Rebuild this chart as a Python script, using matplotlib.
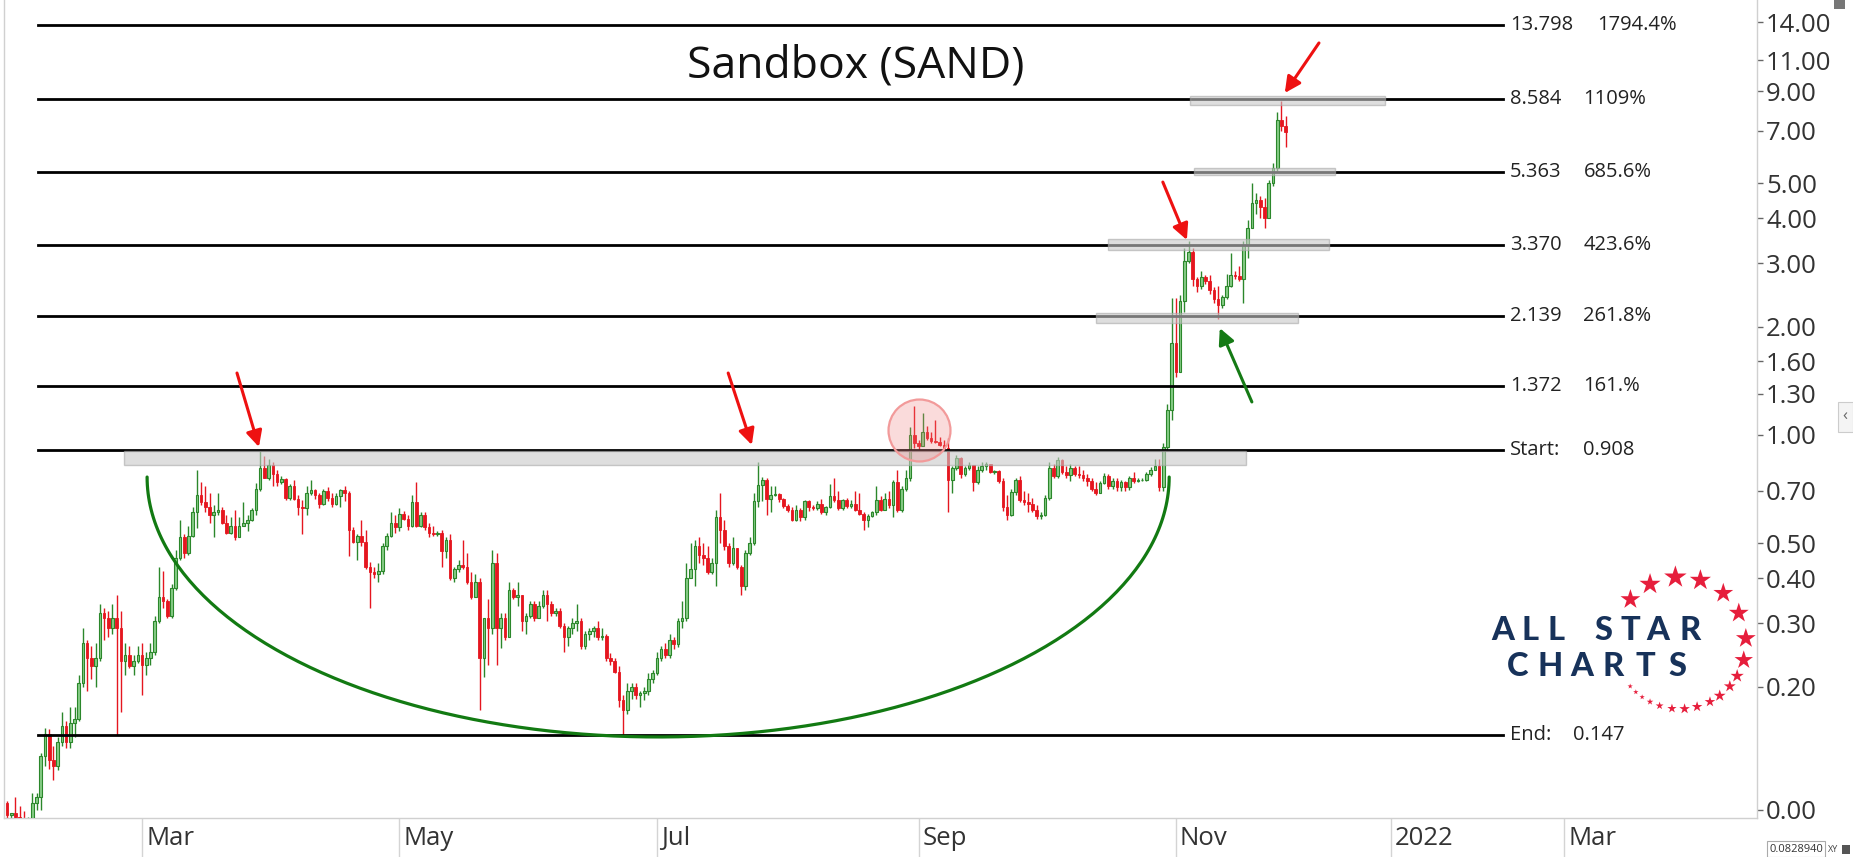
import numpy as np
import matplotlib.pyplot as plt
import matplotlib.transforms as mtransforms
from matplotlib.patches import Rectangle
from matplotlib.ticker import NullLocator

plt.rcParams['font.family'] = ['Open Sans', 'DejaVu Sans']

# SAND daily candles, 2021-01-28 .. 2021-11-27
# (crypto trades 24/7 so each open is the previous close)
start_date = np.datetime64('2021-01-28')
first_open = 0.095
closes = [
    0.088, 0.089, 0.087, 0.086, 0.085, 0.086, 0.095, 0.099, 0.128, 0.148,
    0.125, 0.12, 0.14, 0.155, 0.14, 0.158, 0.163, 0.205, 0.265, 0.24,
    0.228, 0.24, 0.32, 0.31, 0.29, 0.31, 0.29, 0.235, 0.245, 0.228,
    0.236, 0.245, 0.23, 0.24, 0.25, 0.305, 0.355, 0.345, 0.315, 0.375,
    0.455, 0.52, 0.47, 0.525, 0.61, 0.68, 0.65, 0.63, 0.6, 0.61,
    0.62, 0.57, 0.535, 0.56, 0.52, 0.56, 0.57, 0.58, 0.62, 0.71,
    0.81, 0.76, 0.825, 0.78, 0.74, 0.755, 0.67, 0.72, 0.665, 0.63,
    0.625, 0.69, 0.705, 0.68, 0.645, 0.7, 0.67, 0.645, 0.675, 0.705,
    0.69, 0.545, 0.505, 0.525, 0.505, 0.43, 0.415, 0.41, 0.42, 0.49,
    0.525, 0.57, 0.555, 0.605, 0.585, 0.56, 0.65, 0.56, 0.6, 0.555,
    0.535, 0.53, 0.535, 0.475, 0.51, 0.40, 0.425, 0.435, 0.43, 0.39,
    0.355, 0.39, 0.24, 0.31, 0.29, 0.44, 0.29, 0.31, 0.275, 0.37,
    0.355, 0.36, 0.305, 0.315, 0.34, 0.31, 0.335, 0.36, 0.34, 0.32,
    0.325, 0.295, 0.275, 0.29, 0.3, 0.305, 0.26, 0.28, 0.285, 0.29,
    0.275, 0.277, 0.24, 0.235, 0.22, 0.183, 0.172, 0.195, 0.2, 0.19,
    0.192, 0.195, 0.21, 0.218, 0.24, 0.255, 0.245, 0.27, 0.262, 0.305,
    0.31, 0.40, 0.425, 0.49, 0.465, 0.455, 0.415, 0.44, 0.59, 0.545,
    0.49, 0.44, 0.485, 0.43, 0.38, 0.47, 0.50, 0.655, 0.725, 0.75,
    0.665, 0.68, 0.685, 0.665, 0.635, 0.62, 0.58, 0.62, 0.59, 0.655,
    0.63, 0.625, 0.645, 0.61, 0.63, 0.675, 0.66, 0.625, 0.66, 0.635,
    0.645, 0.62, 0.605, 0.58, 0.595, 0.61, 0.66, 0.62, 0.665, 0.64,
    0.74, 0.62, 0.71, 0.76, 1.0, 0.95, 0.93, 1.02, 0.98, 0.96,
    0.955, 0.94, 0.92, 0.75, 0.81, 0.865, 0.78, 0.81, 0.825, 0.74,
    0.80, 0.82, 0.83, 0.79, 0.795, 0.745, 0.63, 0.60, 0.695, 0.75,
    0.66, 0.65, 0.645, 0.62, 0.595, 0.60, 0.67, 0.81, 0.77, 0.85,
    0.79, 0.775, 0.81, 0.78, 0.775, 0.76, 0.745, 0.71, 0.69, 0.735,
    0.77, 0.72, 0.745, 0.715, 0.74, 0.715, 0.76, 0.745, 0.75, 0.752,
    0.78, 0.80, 0.82, 0.715, 0.925, 1.17, 1.8, 1.5, 2.35, 3.05,
    3.22, 2.72, 2.6, 2.75, 2.67, 2.53, 2.38, 2.3, 2.42, 2.6,
    2.78, 2.76, 2.72, 3.37, 3.75, 4.4, 4.5, 4.3, 4.0, 5.0,
    5.5, 7.5, 7.2, 6.95,
]
highs = [
    0.096, 0.089, 0.099, 0.093, 0.090, 0.087, 0.101, 0.101, 0.131, 0.153,
    0.152, 0.137, 0.145, 0.17, 0.16, 0.175, 0.175, 0.215, 0.29, 0.27,
    0.26, 0.265, 0.34, 0.33, 0.325, 0.34, 0.36, 0.325, 0.265, 0.26,
    0.245, 0.26, 0.265, 0.25, 0.265, 0.315, 0.43, 0.42, 0.35, 0.385,
    0.48, 0.58, 0.53, 0.56, 0.63, 0.8, 0.74, 0.72, 0.69, 0.64,
    0.69, 0.63, 0.6, 0.59, 0.62, 0.59, 0.65, 0.6, 0.625, 0.735,
    0.9, 0.875, 0.86, 0.84, 0.8, 0.77, 0.76, 0.73, 0.75, 0.68,
    0.66, 0.72, 0.75, 0.71, 0.69, 0.71, 0.715, 0.69, 0.69, 0.71,
    0.72, 0.7, 0.555, 0.53, 0.58, 0.545, 0.445, 0.43, 0.44, 0.5,
    0.535, 0.61, 0.6, 0.625, 0.615, 0.6, 0.68, 0.74, 0.61, 0.61,
    0.57, 0.56, 0.54, 0.545, 0.52, 0.53, 0.43, 0.45, 0.51, 0.47,
    0.415, 0.41, 0.4, 0.31, 0.35, 0.48, 0.47, 0.32, 0.32, 0.39,
    0.375, 0.39, 0.36, 0.32, 0.345, 0.345, 0.345, 0.37, 0.37, 0.345,
    0.33, 0.33, 0.3, 0.295, 0.31, 0.34, 0.31, 0.285, 0.29, 0.295,
    0.305, 0.29, 0.28, 0.248, 0.24, 0.228, 0.19, 0.205, 0.205, 0.205,
    0.195, 0.2, 0.218, 0.222, 0.25, 0.26, 0.265, 0.28, 0.275, 0.31,
    0.345, 0.44, 0.50, 0.51, 0.52, 0.5, 0.49, 0.455, 0.62, 0.69,
    0.58, 0.5, 0.52, 0.485, 0.435, 0.48, 0.52, 0.69, 0.84, 0.765,
    0.76, 0.72, 0.72, 0.69, 0.67, 0.645, 0.63, 0.64, 0.625, 0.66,
    0.66, 0.64, 0.655, 0.665, 0.635, 0.73, 0.76, 0.70, 0.665, 0.67,
    0.66, 0.70, 0.69, 0.61, 0.605, 0.615, 0.72, 0.675, 0.69, 0.70,
    0.75, 0.80, 0.72, 0.80, 1.05, 1.2, 0.97, 1.15, 1.06, 1.02,
    1.1, 0.99, 0.97, 0.98, 0.82, 0.88, 0.87, 0.82, 0.84, 0.82,
    0.82, 0.84, 0.84, 0.82, 0.80, 0.80, 0.76, 0.68, 0.71, 0.76,
    0.77, 0.70, 0.69, 0.67, 0.64, 0.61, 0.68, 0.84, 0.83, 0.87,
    0.86, 0.82, 0.83, 0.82, 0.82, 0.80, 0.78, 0.76, 0.74, 0.745,
    0.785, 0.78, 0.76, 0.76, 0.75, 0.745, 0.77, 0.79, 0.76, 0.76,
    0.79, 0.815, 0.86, 0.86, 0.95, 1.22, 2.4, 2.4, 2.45, 3.3,
    3.45, 3.3, 2.75, 2.85, 2.78, 2.78, 2.58, 2.6, 2.45, 2.8,
    3.2, 2.85, 2.95, 3.45, 3.95, 5.0, 4.7, 4.6, 4.55, 5.1,
    5.7, 7.9, 8.45, 7.7,
]
lows = [
    0.085, 0.085, 0.086, 0.085, 0.084, 0.083, 0.084, 0.091, 0.091, 0.120,
    0.118, 0.11, 0.117, 0.137, 0.135, 0.135, 0.145, 0.16, 0.2, 0.195,
    0.21, 0.2, 0.235, 0.27, 0.275, 0.28, 0.147, 0.17, 0.215, 0.225,
    0.215, 0.232, 0.19, 0.215, 0.23, 0.245, 0.3, 0.33, 0.31, 0.31,
    0.37, 0.45, 0.455, 0.465, 0.52, 0.55, 0.64, 0.61, 0.57, 0.52,
    0.6, 0.565, 0.53, 0.53, 0.51, 0.52, 0.56, 0.54, 0.575, 0.6,
    0.7, 0.76, 0.75, 0.72, 0.72, 0.73, 0.66, 0.66, 0.66, 0.6,
    0.53, 0.6, 0.68, 0.665, 0.625, 0.64, 0.655, 0.63, 0.64, 0.63,
    0.655, 0.46, 0.5, 0.45, 0.49, 0.425, 0.33, 0.4, 0.39, 0.41,
    0.48, 0.52, 0.535, 0.54, 0.58, 0.545, 0.555, 0.555, 0.555, 0.545,
    0.52, 0.525, 0.525, 0.43, 0.455, 0.395, 0.39, 0.415, 0.425, 0.385,
    0.35, 0.355, 0.172, 0.212, 0.23, 0.28, 0.23, 0.256, 0.27, 0.28,
    0.35, 0.335, 0.285, 0.28, 0.31, 0.305, 0.31, 0.33, 0.305, 0.315,
    0.315, 0.29, 0.25, 0.26, 0.28, 0.285, 0.255, 0.255, 0.27, 0.275,
    0.27, 0.27, 0.235, 0.23, 0.218, 0.175, 0.146, 0.168, 0.185, 0.185,
    0.175, 0.183, 0.19, 0.205, 0.215, 0.235, 0.24, 0.24, 0.255, 0.258,
    0.29, 0.305, 0.40, 0.38, 0.44, 0.435, 0.41, 0.41, 0.38, 0.50,
    0.48, 0.43, 0.435, 0.425, 0.36, 0.37, 0.465, 0.495, 0.63, 0.655,
    0.60, 0.61, 0.675, 0.65, 0.625, 0.61, 0.575, 0.575, 0.575, 0.58,
    0.615, 0.62, 0.62, 0.605, 0.6, 0.625, 0.65, 0.62, 0.62, 0.625,
    0.625, 0.615, 0.60, 0.545, 0.555, 0.59, 0.60, 0.615, 0.64, 0.625,
    0.59, 0.61, 0.61, 0.70, 0.745, 0.92, 0.91, 0.94, 0.97, 0.95,
    0.95, 0.93, 0.91, 0.61, 0.69, 0.80, 0.76, 0.77, 0.80, 0.70,
    0.73, 0.79, 0.80, 0.785, 0.78, 0.735, 0.615, 0.58, 0.595, 0.68,
    0.65, 0.64, 0.61, 0.61, 0.585, 0.585, 0.595, 0.66, 0.76, 0.76,
    0.78, 0.76, 0.745, 0.77, 0.76, 0.745, 0.72, 0.70, 0.68, 0.70,
    0.73, 0.71, 0.71, 0.70, 0.70, 0.70, 0.705, 0.735, 0.74, 0.745,
    0.745, 0.77, 0.80, 0.70, 0.70, 0.9, 1.1, 1.45, 1.5, 2.2,
    3.0, 2.6, 2.5, 2.55, 2.62, 2.47, 2.33, 2.1, 2.25, 2.38,
    2.58, 2.72, 2.68, 2.33, 3.1, 3.8, 4.1, 4.0, 3.75, 4.0,
    4.9, 5.4, 7.0, 6.3,
]
assert len(closes) == len(highs) == len(lows)

# fibonacci extension levels drawn on the chart
fib_levels = [13.798, 8.584, 5.363, 3.370, 2.139, 1.372, 0.908, 0.147]
fib_names = ['13.798', '8.584', '5.363', '3.370', '2.139', '1.372', 'Start:', 'End:']
fib_values = ['1794.4%', '1109%', '685.6%', '423.6%', '261.8%', '161.%', '0.908', '0.147']

ytick_vals = [14, 11, 9, 7, 5, 4, 3, 2, 1.6, 1.3, 1.0, 0.7, 0.5, 0.4, 0.3, 0.2, 0.091]
ytick_labels = ['14.00', '11.00', '9.00', '7.00', '5.00', '4.00', '3.00', '2.00', '1.60',
                '1.30', '1.00', '0.70', '0.50', '0.40', '0.30', '0.20', '0.00']

month_dates = ['2021-03-01', '2021-05-01', '2021-07-01', '2021-09-01',
               '2021-11-01', '2022-01-01', '2022-03-01']
month_labels = ['Mar', 'May', 'Jul', 'Sep', 'Nov', '2022', 'Mar']

n = len(closes)
last_date = start_date + (n - 1)


def date_idx(d):
    # calendar days while there is data, business days in the empty future
    d = np.datetime64(d)
    if d <= last_date:
        return int((d - start_date).astype(int))
    return n - 1 + int(np.busday_count(last_date + 1, d))


W, H = 1853, 857
fig = plt.figure(figsize=(W / 100, H / 100), dpi=100)
ax = fig.add_axes([4 / W, 39 / H, 1753 / W, 818 / H])

idx = np.arange(n)
closes = np.array(closes)
opens = np.r_[first_open, closes[:-1]]
highs = np.maximum(np.array(highs), np.maximum(opens, closes))
lows = np.minimum(np.array(lows), np.minimum(opens, closes))
up = closes >= opens

GREEN_EDGE, GREEN_FILL, RED = '#2b872b', '#86cc86', '#e5161f'
ax.vlines(idx[up], lows[up], highs[up], color=GREEN_EDGE, lw=1.0, zorder=2)
ax.vlines(idx[~up], lows[~up], highs[~up], color=RED, lw=1.0, zorder=2)
ax.bar(idx[up], closes[up] - opens[up], bottom=opens[up], width=0.62,
       color=GREEN_FILL, edgecolor=GREEN_EDGE, linewidth=0.8, zorder=3)
ax.bar(idx[~up], opens[~up] - closes[~up], bottom=closes[~up], width=0.62,
       color=RED, edgecolor=RED, linewidth=0.6, zorder=3)

# fib lines + labels
lbl_tr = mtransforms.blended_transform_factory(ax.transAxes, ax.transData)
for lvl, name, val in zip(fib_levels, fib_names, fib_values):
    ax.axhline(lvl, xmin=0.0194, xmax=0.855, color='black', lw=2.0, zorder=4)
    ax.text(0.859, lvl, name, transform=lbl_tr, fontsize=14.5, color='#222222', va='center')
    vx = 0.909 if val == '1794.4%' else (0.895 if name == 'End:' else 0.901)
    ax.text(vx, lvl, val, transform=lbl_tr, fontsize=14.5, color='#222222', va='center')

# gray highlight zones (x in bar index, y in price)
zones = [(27.7, 293.6, 0.825, 0.903), (258.0, 306.0, 2.047, 2.18),
         (260.9, 313.3, 3.26, 3.5), (281.3, 314.7, 5.27, 5.52), (280.3, 326.5, 8.25, 8.75)]
for x0, x1, y0, y1 in zones:
    ax.add_patch(Rectangle((x0, y0), x1 - x0, y1 - y0, facecolor='#c8c8c8',
                           edgecolor='#a8a8a8', lw=1.0, alpha=0.6, zorder=5))

# cup (lower half of an ellipse in chart space)
t = np.linspace(0, np.pi, 200)
cup_x = 154.3 + 121.1 * np.cos(t)
cup_y = 10 ** (np.log10(0.764) - 0.722 * np.sin(t))
ax.plot(cup_x, cup_y, color='#127a12', lw=2.3, zorder=6, solid_capstyle='round')

# pink circle on the false breakout
ax.scatter([216.0], [1.03], s=1990, marker='o', facecolor=(0.94, 0.5, 0.5, 0.28),
           edgecolor='#f29a9a', linewidth=1.6, zorder=6)

# arrows (tail -> tip)
red_arrows = [((54.5, 1.486), (59.7, 0.926)), ((170.9, 1.486), (176.5, 0.938)),
              ((273.9, 5.04), (279.6, 3.48)), ((310.9, 12.27), (302.8, 8.91))]
for tail, tip in red_arrows:
    ax.annotate('', xy=tip, xytext=tail, zorder=7,
                arrowprops=dict(arrowstyle='-|>', color='#ee1111', lw=2.2,
                                mutation_scale=24, shrinkA=0, shrinkB=0))
ax.annotate('', xy=(287.4, 1.98), xytext=(295.0, 1.235), zorder=7,
            arrowprops=dict(arrowstyle='-|>', color='#157a15', lw=2.2,
                            mutation_scale=24, shrinkA=0, shrinkB=0))

ax.text(0.486, 0.9193, 'Sandbox (SAND)', transform=ax.transAxes, fontsize=32,
        ha='center', va='center', color='#111111')

# axes look
ax.set_yscale('log')
ax.set_ylim(0.0863, 16.15)
ax.set_xlim(-0.71, 414.7)
ax.yaxis.tick_right()
ax.set_yticks(ytick_vals)
ax.set_yticklabels(ytick_labels)
ax.yaxis.set_minor_locator(NullLocator())
ax.tick_params(axis='y', length=4.5, width=1, color='#666666', labelsize=18.5,
               labelcolor='#333333', pad=2)
ax.set_xticks([date_idx(d) for d in month_dates])
ax.set_xticklabels([])
ax.tick_params(axis='x', length=28, width=1, color='#d4d4d4', direction='out')
x_tr = mtransforms.offset_copy(
    mtransforms.blended_transform_factory(ax.transData, ax.transAxes), fig=fig, x=4, units='dots')
for d, lab in zip(month_dates, month_labels):
    ax.text(date_idx(d), -0.0245, lab, transform=x_tr, fontsize=18.5, color='#333333',
            ha='left', va='center', clip_on=False)
ax.spines['top'].set_visible(False)
for s in ('left', 'bottom', 'right'):
    ax.spines[s].set_color('#d0d0d0')
    ax.spines[s].set_linewidth(1.0)


def axpos(px, py):
    return (px - 4) / 1753, (818 - py) / 818


# All Star Charts logo
for ch, px in zip('ALLSTAR', [1503, 1530, 1556, 1603, 1630, 1658, 1690]):
    ax.text(*axpos(px, 630), ch, transform=ax.transAxes, fontsize=23.5, fontweight='black',
            family='Lato', color='#17325a', ha='center', va='center', zorder=8)
for ch, px in zip('CHARTS', [1518, 1550, 1582, 1613, 1645, 1677]):
    ax.text(*axpos(px, 667), ch, transform=ax.transAxes, fontsize=23.5, fontweight='black',
            family='Lato', color='#17325a', ha='center', va='center', zorder=8)
star_ang = np.radians([138.7, 117, 94, 72, 49, 27, 4, -15, -30, -41, -53, -63, -75, -86,
                       -97, -108, -117, -125, -132, -139])
star_px = np.array([15, 16, 17, 16, 15, 15, 15, 14, 10, 9, 9, 8, 8, 8, 7, 6, 5, 4, 4, 4])
sx, sy = axpos(1680 + 66 * np.cos(star_ang), 643 - 66 * np.sin(star_ang))
ax.scatter(sx, sy, s=(star_px * 1.0) ** 2, marker='*', color='#e61e3c', linewidths=0,
           transform=ax.transAxes, zorder=8, clip_on=False)

# small widgets on the right edge
fig.text(1769 / W, 1 - 849 / H, '0.0828940', fontsize=8, color='#333333', va='center',
         bbox=dict(boxstyle='square,pad=0.2', fc='white', ec='#aaaaaa', lw=0.8))
fig.text(1828 / W, 1 - 849 / H, 'XY', fontsize=6.5, color='#444444', va='center')
fig.patches.append(Rectangle((1842 / W, 1 - 854 / H), 8 / W, 9 / H, transform=fig.transFigure,
                             facecolor='#555555', edgecolor='none'))
fig.patches.append(Rectangle((1834 / W, 1 - 9 / H), 11 / W, 9 / H, transform=fig.transFigure,
                             facecolor='#777777', edgecolor='none'))
fig.patches.append(Rectangle((1838 / W, 1 - 432 / H), 15 / W, 30 / H, transform=fig.transFigure,
                             facecolor='#f4f4f4', edgecolor='#cccccc', lw=0.8))
fig.text(1845 / W, 1 - 416 / H, '‹', fontsize=12, color='#666666', ha='center', va='center')

fig.savefig('out.png', dpi=100)
